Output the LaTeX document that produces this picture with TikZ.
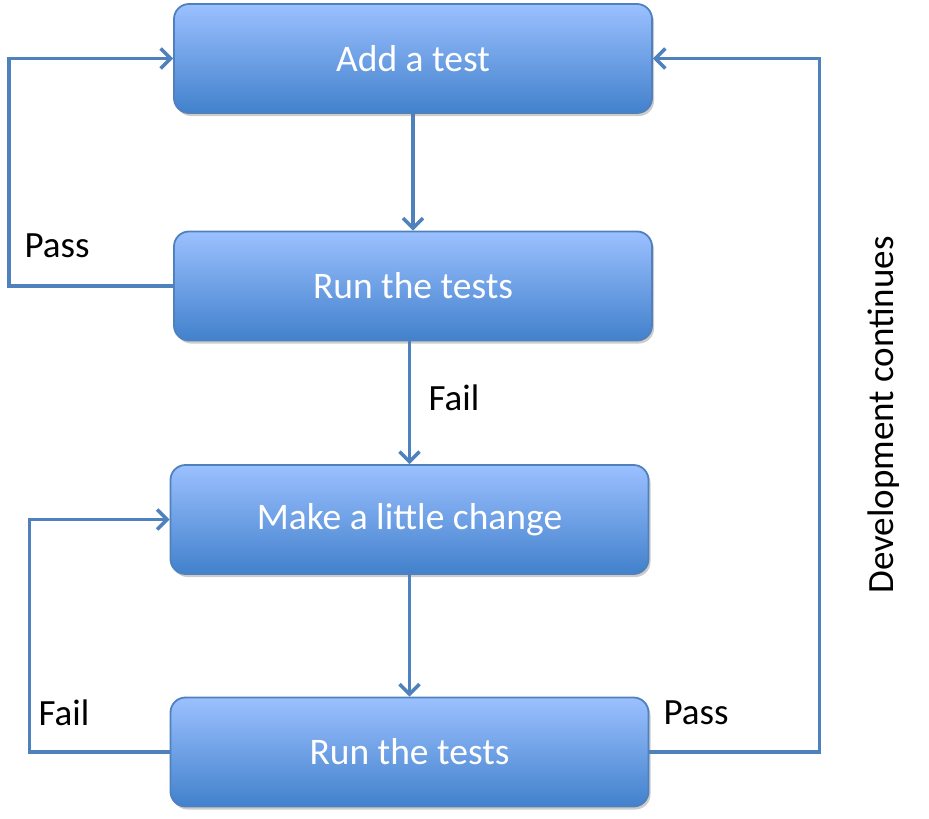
\documentclass[tikz,border=0pt]{standalone}
\usepackage{fontspec}
\setmainfont{Carlito}
\usetikzlibrary{arrows.meta,shadows}
\definecolor{lineblue}{RGB}{79,129,189}
\definecolor{topblue}{RGB}{155,192,255}
\definecolor{midblue}{RGB}{112,160,228}
\definecolor{botblue}{RGB}{66,129,204}
\begin{document}
\begin{tikzpicture}[x=1pt,y=-1pt,
  box/.style={rounded corners=15pt, draw=lineblue, line width=1.8pt,
    top color=topblue, middle color=midblue, bottom color=botblue,
    minimum width=478pt, minimum height=109pt, inner sep=0pt,
    text=white, font=\fontsize{37.5}{44}\selectfont,
    drop shadow={shadow xshift=2pt, shadow yshift=-3pt, opacity=0.2, fill=black}},
  conn/.style={draw=lineblue, line width=3.5pt,
    -{Straight Barb[length=10pt,width=20pt,line width=3.5pt]}},
  lbl/.style={font=\fontsize{37}{44}\selectfont, text=black, inner sep=0pt}]
\useasboundingbox (0,0) rectangle (929,819);
\node[box] (b1) at (413,58.5) {Add a test};
\node[box] (b2) at (413,286) {Run the tests};
\node[box] (b3) at (409.5,519.5) {Make a little change};
\node[box] (b4) at (409.5,752) {Run the tests};
\draw[conn] (b1.south) -- (b2.north);
\draw[conn] (b3.north |- b2.south) -- (b3.north);
\draw[conn] (b3.south) -- (b4.north);
\draw[conn] (b2.west) -- ++(-164,0) |- (b1.west);
\draw[conn] (b4.west) -- ++(-140,0) |- (b3.west);
\draw[conn] (b4.east) -- ++(170,0) |- (b1.east);
\node[lbl] (pass1) at (57,246) {Pass};
\node[lbl] (fail1) at (454,398) {Fail};
\node[lbl] (fail2) at (64,713) {Fail};
\node[lbl] (pass2) at (696,713) {Pass};
\node[lbl, rotate=90] (dev) at (884,415) {Development continues};
\end{tikzpicture}
\end{document}
